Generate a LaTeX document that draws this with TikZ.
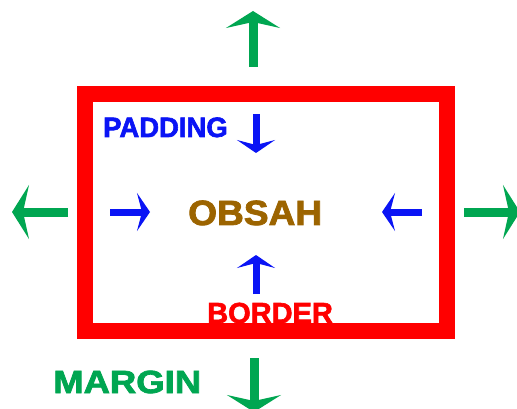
\documentclass[tikz,border=0pt]{standalone}
\usepackage{fontspec}
\setmainfont{Liberation Sans}[BoldFeatures={FakeBold=2.2}]
\usetikzlibrary{arrows.meta}
\definecolor{mgreen}{HTML}{00A651}
\definecolor{pblue}{HTML}{0A14F5}
\definecolor{bred}{HTML}{FF0000}
\definecolor{obrown}{HTML}{9C6400}
\tikzset{
  greenarrow/.style={draw=mgreen, line width=9pt, -{Stealth[length=17pt,width=54pt,inset=6pt]}},
  bluearrow/.style={draw=pblue, line width=7pt, -{Stealth[length=13pt,width=38pt,inset=5pt]}},
  label/.style={inner sep=0pt, anchor=base west, font=\bfseries}
}
\begin{document}
\begin{tikzpicture}[x=1pt,y=-1pt]
\useasboundingbox (0,0) rectangle (517,409);
% border box
\draw[bred, line width=16pt] (85,94) rectangle (447,331);
% margin arrows
\coordinate (mu0) at (253,67); \coordinate (mu1) at (253,11);
\coordinate (ml0) at (68,212); \coordinate (ml1) at (12,212);
\coordinate (mr0) at (464,212); \coordinate (mr1) at (520,212);
\coordinate (md0) at (254,358); \coordinate (md1) at (254,412);
\draw[greenarrow] (mu0) -- (mu1);
\draw[greenarrow] (ml0) -- (ml1);
\draw[greenarrow] (mr0) -- (mr1);
\draw[greenarrow] (md0) -- (md1);
% padding arrows
\coordinate (pd0) at (256,114); \coordinate (pd1) at (256,153);
\coordinate (pu0) at (256,294); \coordinate (pu1) at (256,255);
\coordinate (pr0) at (110,212); \coordinate (pr1) at (150,212);
\coordinate (pl0) at (422,212); \coordinate (pl1) at (382,212);
\draw[bluearrow] (pd0) -- (pd1);
\draw[bluearrow] (pu0) -- (pu1);
\draw[bluearrow] (pr0) -- (pr1);
\draw[bluearrow] (pl0) -- (pl1);
% labels
\node[label, text=pblue, font=\bfseries\fontsize{28}{28}\selectfont, xscale=0.98] (padding) at (103,137) {PADDING};
\node[label, text=obrown, font=\bfseries\fontsize{35}{35}\selectfont, xscale=1.06] (obsah) at (188,225) {OBSAH};
\node[label, text=bred, font=\bfseries\fontsize{29}{29}\selectfont, xscale=1.0] (border) at (207,323) {BORDER};
\node[label, text=mgreen, font=\bfseries\fontsize{32}{32}\selectfont, xscale=1.14] (margin) at (53,393) {MARGIN};
\end{tikzpicture}
\end{document}
